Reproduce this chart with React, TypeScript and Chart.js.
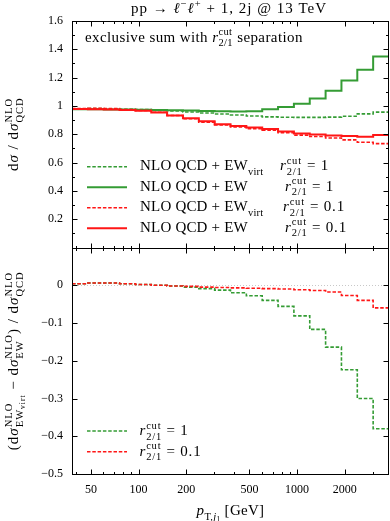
import React, { useEffect, useRef } from 'react';
import { Chart, registerables } from 'chart.js';

Chart.register(...registerables);

// ---------- data ----------
const BIN_EDGES = [38, 47.84, 60.23, 75.82, 95.45, 120.2, 151.3, 190.5, 239.8, 301.8, 380, 478.4, 602.3, 758.2, 954.5, 1201.7, 1512.8, 1904.5, 2397.6, 3018.4, 3800];

// top panel: ratio to NLO QCD
const EWVIRT_R1 = [0.980, 0.981, 0.980, 0.977, 0.974, 0.969, 0.964, 0.957, 0.950, 0.943, 0.936, 0.929, 0.923, 0.920, 0.919, 0.919, 0.921, 0.927, 0.944, 0.956];
const EW_R1 = [0.976, 0.976, 0.975, 0.974, 0.973, 0.972, 0.970, 0.967, 0.964, 0.962, 0.961, 0.963, 0.976, 0.992, 1.015, 1.052, 1.107, 1.180, 1.256, 1.350];
const EWVIRT_R01 = [0.982, 0.983, 0.981, 0.975, 0.968, 0.955, 0.932, 0.910, 0.886, 0.865, 0.851, 0.840, 0.829, 0.811, 0.794, 0.784, 0.774, 0.760, 0.743, 0.734];
const EW_R01 = [0.978, 0.977, 0.975, 0.971, 0.966, 0.954, 0.933, 0.913, 0.891, 0.871, 0.858, 0.848, 0.837, 0.820, 0.806, 0.798, 0.792, 0.787, 0.782, 0.795];

// bottom panel: (EWvirt - EW) / QCD
const DIFF_R1 = [0.004, 0.006, 0.006, 0.004, 0.002, 0.000, -0.002, -0.005, -0.009, -0.013, -0.020, -0.028, -0.040, -0.056, -0.081, -0.117, -0.164, -0.224, -0.300, -0.380];
const DIFF_R01 = [0.004, 0.006, 0.006, 0.004, 0.002, 0.000, -0.002, -0.003, -0.005, -0.006, -0.007, -0.008, -0.009, -0.010, -0.012, -0.014, -0.018, -0.027, -0.040, -0.060];

// ticks
const X_LABEL_TICKS = [50, 100, 200, 500, 1000, 2000];
const X_MINOR_TICKS = [40, 60, 70, 80, 90, 300, 400, 600, 700, 800, 900, 3000];
const TOP_Y_TICKS = [0.2, 0.4, 0.6, 0.8, 1.0, 1.2, 1.4, 1.6];
const TOP_Y_MINOR = [0.1, 0.3, 0.5, 0.7, 0.9, 1.1, 1.3, 1.5];
const BOT_Y_TICKS = [0, -0.1, -0.2, -0.3, -0.4, -0.5];

// ---------- styles ----------
const FONT = '"Liberation Serif", "DejaVu Serif", serif';
const GREEN = 'rgb(52,156,52)';
const RED = 'rgb(255,22,22)';
const DASH = [3.5, 1.8];
const TXT = 15;

type P = { t: string; s?: number; it?: boolean; dy?: number; m?: 'n' | 'b' | 'c' };

function fontOf(size: number, it?: boolean) {
  return `${it ? 'italic ' : ''}${size}px ${FONT}`;
}

function layout(ctx: CanvasRenderingContext2D, ps: P[], size: number) {
  let prevStart = 0, cursor = 0, maxEnd = 0;
  const items: { t: string; font: string; x: number; dy: number }[] = [];
  for (const p of ps) {
    const sz = size * (p.s ?? 1);
    const font = fontOf(sz, p.it);
    ctx.font = font;
    const w = ctx.measureText(p.t).width;
    const mode = p.m ?? 'n';
    const start = mode === 'b' ? prevStart : mode === 'c' ? cursor : Math.max(cursor, maxEnd);
    items.push({ t: p.t, font, x: start, dy: (p.dy ?? 0) * size });
    prevStart = start;
    cursor = start + w;
    maxEnd = Math.max(maxEnd, cursor);
  }
  return { items, width: maxEnd };
}

function drawRich(ctx: CanvasRenderingContext2D, ps: P[], x: number, y: number, size: number, align: 'left' | 'center' = 'left', rot = 0, spacing = 0) {
  ctx.save();
  ctx.translate(x, y);
  if (rot) ctx.rotate(rot);
  (ctx as any).letterSpacing = `${spacing}px`;
  const { items, width } = layout(ctx, ps, size);
  const off = align === 'center' ? -width / 2 : 0;
  ctx.fillStyle = '#000';
  ctx.textBaseline = 'alphabetic';
  ctx.textAlign = 'left';
  for (const it of items) {
    ctx.font = it.font;
    ctx.fillText(it.t, off + it.x, it.dy);
  }
  ctx.restore();
}

const SUP = (t: string, m: 'n' | 'b' | 'c' = 'n'): P => ({ t, s: 0.7, dy: -0.42, m });
const SUB = (t: string, m: 'n' | 'b' | 'c' = 'n', it = false): P => ({ t, s: 0.7, dy: 0.3, m, it });
const SS = (a: string, b: string): P[] => [SUP(a), SUB(b, 'b')];
const R21: P[] = [{ t: 'r', it: true }, ...SS('cut', '2/1')];

const framePlugin = {
  id: 'frameAndText',
  beforeDatasetsDraw(chart: any) {
    const { ctx, chartArea: ca, scales } = chart;
    const y0 = Math.round(scales.y2.getPixelForValue(0)) + 0.5;
    ctx.save();
    ctx.strokeStyle = '#c8c8c8';
    ctx.lineWidth = 1;
    ctx.setLineDash([1, 2]);
    ctx.beginPath();
    ctx.moveTo(ca.left, y0);
    ctx.lineTo(ca.right, y0);
    ctx.stroke();
    ctx.restore();
  },
  afterDraw(chart: any) {
    const { ctx, chartArea: ca, scales } = chart;
    const xs = scales.x, yT = scales.y, yB = scales.y2;
    const L = Math.round(ca.left) + 0.5;
    const R = Math.round(ca.right) - 0.5;
    ctx.save();
    ctx.strokeStyle = '#000';
    ctx.lineWidth = 1;
    ctx.setLineDash([]);
    const MAJ = 5, MIN = 2.5;
    for (const ys of [yT, yB]) {
      const T = Math.round(ys.top) + 0.5;
      const B = Math.round(ys.bottom) + 0.5;
      ctx.strokeRect(L, T, R - L, B - T);
      ctx.beginPath();
      const xt = (v: number, len: number) => {
        const px = Math.round(xs.getPixelForValue(v)) + 0.5;
        ctx.moveTo(px, B); ctx.lineTo(px, B - len);
        ctx.moveTo(px, T); ctx.lineTo(px, T + len);
      };
      X_LABEL_TICKS.forEach(v => xt(v, MAJ));
      X_MINOR_TICKS.forEach(v => xt(v, MIN));
      const yt = (v: number, len: number) => {
        const py = Math.round(ys.getPixelForValue(v)) + 0.5;
        ctx.moveTo(L, py); ctx.lineTo(L + len, py);
        ctx.moveTo(R, py); ctx.lineTo(R - len, py);
      };
      if (ys === yT) {
        TOP_Y_TICKS.forEach(v => yt(v, MAJ));
        TOP_Y_MINOR.forEach(v => yt(v, MIN));
      } else {
        BOT_Y_TICKS.forEach(v => yt(v, MAJ));
      }
      ctx.stroke();
    }

    // title
    drawRich(ctx, [
      { t: 'pp → ' }, { t: 'ℓ', it: true }, SUP('−', 'c'), { t: 'ℓ', it: true }, SUP('+', 'c'),
      { t: ' + 1, 2j @ 13 TeV' },
    ], 229, 13, TXT, 'center', 0, 1);

    // inner text
    drawRich(ctx, [{ t: 'exclusive sum with ' }, ...R21, { t: ' separation' }], 85, 41.5, TXT, 'left', 0, 0.4);

    // top legend
    const entries = [
      { c: GREEN, d: true, virt: true, r: ' = 1', rx: 280 },
      { c: GREEN, d: false, virt: false, r: ' = 1', rx: 285 },
      { c: RED, d: true, virt: true, r: ' = 0.1', rx: 283 },
      { c: RED, d: false, virt: false, r: ' = 0.1', rx: 285 },
    ];
    const ly = [166.7, 187.3, 207.7, 228.3];
    entries.forEach((e, i) => {
      ctx.save();
      ctx.strokeStyle = e.c;
      ctx.lineWidth = e.d ? 1.6 : 2;
      ctx.setLineDash(e.d ? DASH : []);
      ctx.beginPath();
      ctx.moveTo(87, ly[i]); ctx.lineTo(127, ly[i]);
      ctx.stroke();
      ctx.restore();
      const lab: P[] = [{ t: 'NLO QCD + EW' }];
      if (e.virt) lab.push(SUB('virt'));
      drawRich(ctx, lab, 140, ly[i] + 3.3, TXT, 'left', 0, 0.2);
      drawRich(ctx, [...R21, { t: e.r }], e.rx, ly[i] + 3.3, TXT, 'left', 0, 0.8);
    });

    // bottom legend
    const bl = [{ c: GREEN, r: ' = 1' }, { c: RED, r: ' = 0.1' }];
    const bly = [431, 451.7];
    bl.forEach((e, i) => {
      ctx.save();
      ctx.strokeStyle = e.c;
      ctx.lineWidth = 1.6;
      ctx.setLineDash(DASH);
      ctx.beginPath();
      ctx.moveTo(87, bly[i]); ctx.lineTo(127, bly[i]);
      ctx.stroke();
      ctx.restore();
      drawRich(ctx, [...R21, { t: e.r }], 139.5, bly[i] + 4, TXT, 'left', 0, 0.8);
    });

    // y titles
    const midT = (yT.top + yT.bottom) / 2;
    const midB = (yB.top + yB.bottom) / 2;
    drawRich(ctx, [{ t: 'd' }, { t: 'σ', it: true }, { t: ' / d' }, { t: 'σ', it: true }, ...SS('NLO', 'QCD')], 18, midT, TXT, 'center', -Math.PI / 2, 1);
    drawRich(ctx, [
      { t: '(d' }, { t: 'σ', it: true }, SUP('NLO'), SUB('EW', 'b'), { t: 'virt', s: 0.5, dy: 0.45, m: 'c' },
      { t: ' − d' }, { t: 'σ', it: true }, ...SS('NLO', 'EW'),
      { t: ') / d' }, { t: 'σ', it: true }, ...SS('NLO', 'QCD'),
    ], 18, midB, TXT, 'center', -Math.PI / 2, 1);

    // x title
    drawRich(ctx, [
      { t: 'p', it: true }, SUB('T,'), SUB('j', 'c', true), { t: '1', s: 0.5, dy: 0.45, m: 'c' }, { t: ' [GeV]' },
    ], (ca.left + ca.right) / 2, 515, TXT, 'center', 0, 0.3);
    ctx.restore();
  },
};

function pts(vals: number[]) {
  return BIN_EDGES.map((e, i) => ({ x: e, y: vals[Math.min(i, vals.length - 1)] }));
}

export default function App() {
  const ref = useRef<HTMLCanvasElement>(null);
  useEffect(() => {
    if (!ref.current) return;
    const tickFont = { family: FONT, size: 12 };
    const ds = (data: number[], color: string, dashed: boolean, axis: string) => ({
      data: pts(data),
      yAxisID: axis,
      borderColor: color,
      borderWidth: dashed ? 1.6 : 2,
      borderDash: dashed ? DASH : [],
      stepped: true,
      pointRadius: 0,
      fill: false,
      tension: 0,
    });
    const chart = new Chart(ref.current, {
      type: 'line',
      data: {
        datasets: [
          ds(EW_R01, RED, false, 'y'),
          ds(EWVIRT_R01, RED, true, 'y'),
          ds(EW_R1, GREEN, false, 'y'),
          ds(EWVIRT_R1, GREEN, true, 'y'),
          ds(DIFF_R01, RED, true, 'y2'),
          ds(DIFF_R1, GREEN, true, 'y2'),
        ] as any,
      },
      options: {
        animation: false,
        responsive: false,
        layout: { padding: { top: 21, right: 1, left: 0, bottom: 0 } },
        plugins: { legend: { display: false }, tooltip: { enabled: false }, title: { display: false } },
        scales: {
          x: {
            type: 'logarithmic',
            min: 38,
            max: 3800,
            afterBuildTicks: (s: any) => { s.ticks = X_LABEL_TICKS.map(v => ({ value: v })); },
            afterFit: (s: any) => { s.height = 47; },
            ticks: { callback: (v: any) => String(v), font: tickFont, color: '#000', maxRotation: 0, autoSkip: false, padding: 1 },
            grid: { display: false },
            border: { display: false },
          },
          y2: {
            type: 'linear',
            position: 'left',
            stack: 'panels',
            stackWeight: 1,
            min: -0.5,
            max: 0.1,
            afterBuildTicks: (s: any) => { s.ticks = BOT_Y_TICKS.map(v => ({ value: v })); },
            afterFit: (s: any) => { s.width = 72; },
            ticks: { callback: (v: any) => (Math.abs(v) < 1e-9 ? '0' : '−' + Math.abs(Number(v)).toFixed(1)), font: tickFont, color: '#000', autoSkip: false, padding: 1 },
            grid: { display: false },
            border: { display: false },
          },
          y: {
            type: 'linear',
            position: 'left',
            stack: 'panels',
            stackWeight: 1,
            min: 0,
            max: 1.6,
            afterBuildTicks: (s: any) => { s.ticks = TOP_Y_TICKS.map(v => ({ value: v })); },
            afterFit: (s: any) => { s.width = 72; },
            ticks: { callback: (v: any) => (Math.abs(v - 1) < 1e-9 ? '1' : Number(v).toFixed(1)), font: tickFont, color: '#000', autoSkip: false, padding: 1 },
            grid: { display: false },
            border: { display: false },
          },
        },
      } as any,
      plugins: [framePlugin],
    });
    return () => chart.destroy();
  }, []);
  return (
    <div style={{ position: 'absolute', left: 0, top: 0, width: 390, height: 521, background: '#fff' }}>
      <canvas ref={ref} width={390} height={521} style={{ display: 'block', width: 390, height: 521 }} />
    </div>
  );
}
